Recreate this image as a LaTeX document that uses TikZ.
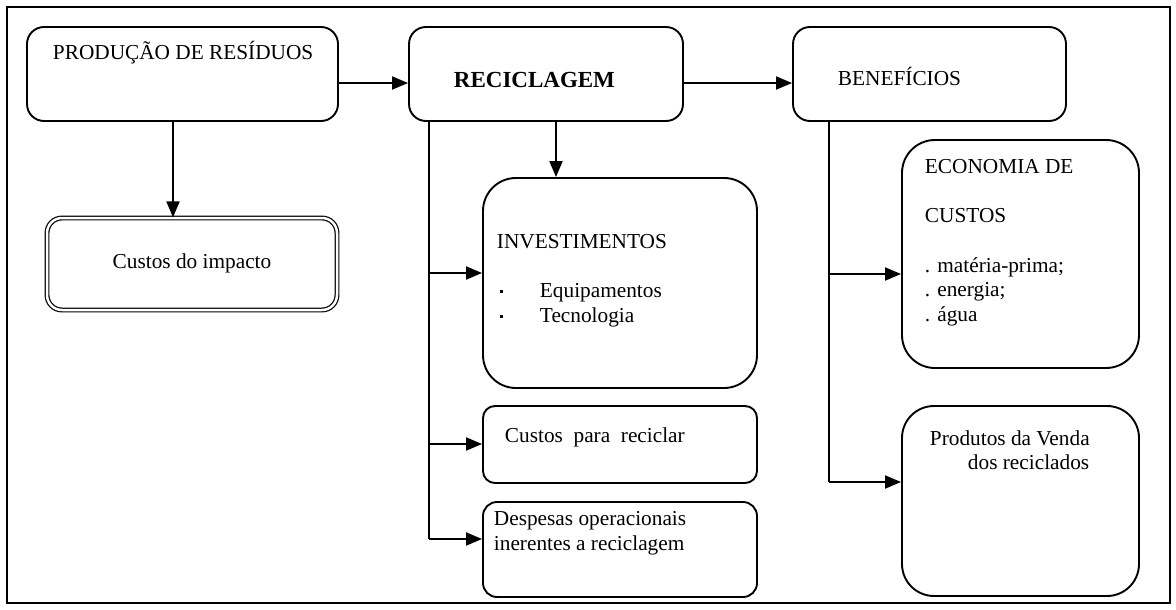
\documentclass[tikz,border=0pt]{standalone}
\usepackage{fontspec}
\setmainfont{Liberation Serif}
\usetikzlibrary{arrows.meta}

\begin{document}
\begin{tikzpicture}[x=1pt,y=-1pt,line width=1.9pt,
  caixa/.style={draw,rounded corners=#1,inner sep=0pt},
  seta/.style={-{Triangle[length=16pt,width=13pt]}},
  txt/.style={anchor=base west,inner sep=0pt,font=\fontsize{21.3}{26}\selectfont}]
%\draw[help lines] (0,0) grid[step=50] (1176,610);
\useasboundingbox (0,0) rectangle (1176,610);
\draw[line width=2pt] (7,7) rectangle (1170,603);

\node[caixa=17pt,minimum width=311pt,minimum height=94pt] (prod) at (182.5,74) {};
\node[caixa=17pt,minimum width=274pt,minimum height=94pt] (recic) at (546,74) {};
\node[caixa=17pt,minimum width=273pt,minimum height=94pt] (benef) at (929.5,74) {};
\node[caixa=15pt,double,line width=1.2pt,double distance=2.5pt,minimum width=290pt,minimum height=92pt] (impacto) at (192,264) {};
\node[caixa=33pt,minimum width=274pt,minimum height=210pt] (invest) at (620,283) {};
\node[caixa=12pt,minimum width=274pt,minimum height=77pt] (reciclar) at (620,444.5) {};
\node[caixa=14pt,minimum width=274pt,minimum height=95pt] (despesas) at (620,549.5) {};
\node[caixa=33pt,minimum width=237pt,minimum height=228pt] (economia) at (1020.5,254) {};
\node[caixa=32pt,minimum width=237pt,minimum height=190pt] (produtos) at (1020.5,501) {};

\coordinate (topo) at (0,83);
\coordinate (desce) at (173,0);
\coordinate (meio) at (556,0);
\coordinate (troncoA) at (429,0);
\coordinate (troncoB) at (829,0);

\draw[seta] (prod.east |- topo) -- (recic.west |- topo);
\draw[seta] (recic.east |- topo) -- (benef.west |- topo);
\draw[seta] (prod.south -| desce) -- (impacto.north -| desce);
\draw[seta] (recic.south -| meio) -- (invest.north -| meio);

\draw (recic.south -| troncoA) -- (429,539);
\draw[seta] (429,273) -- (invest.west |- 0,273);
\draw[seta] (429,444) -- (reciclar.west |- 0,444);
\draw[seta] (429,539) -- (despesas.west |- 0,539);

\draw (benef.south -| troncoB) -- (829,482);
\draw[seta] (829,274) -- (economia.west |- 0,274);
\draw[seta] (829,482) -- (produtos.west |- 0,482);

\node[txt] at (52,60) {PRODUÇÃO DE RESÍDUOS};
\node[txt,font=\fontsize{23}{28}\selectfont\bfseries] at (453,88) {RECICLAGEM};
\node[txt] at (837,85) {BENEFÍCIOS};
\node[txt,anchor=base] at (192,268) {Custos do impacto};
\node[txt] at (496,248) {INVESTIMENTOS};
\node[txt] at (499,297) {\rule[4pt]{3pt}{3pt}};
\node[txt] at (499,322) {\rule[4pt]{3pt}{3pt}};
\node[txt] at (539,297) {Equipamentos};
\node[txt] at (539,322) {Tecnologia};
\node[txt] at (504,442) {Custos\ \ para\ \ reciclar};
\node[txt] at (493,525) {Despesas operacionais};
\node[txt] at (493,550) {inerentes a reciclagem};
\node[txt] at (924,173) {ECONOMIA DE};
\node[txt] at (924,222) {CUSTOS};
\node[txt] at (924,272) {. matéria-prima;};
\node[txt] at (924,296) {. energia;};
\node[txt] at (924,321) {. água};
\node[txt] at (929,445) {Produtos da Venda};
\node[txt] at (967,469) {dos reciclados};

\end{tikzpicture}
\end{document}
